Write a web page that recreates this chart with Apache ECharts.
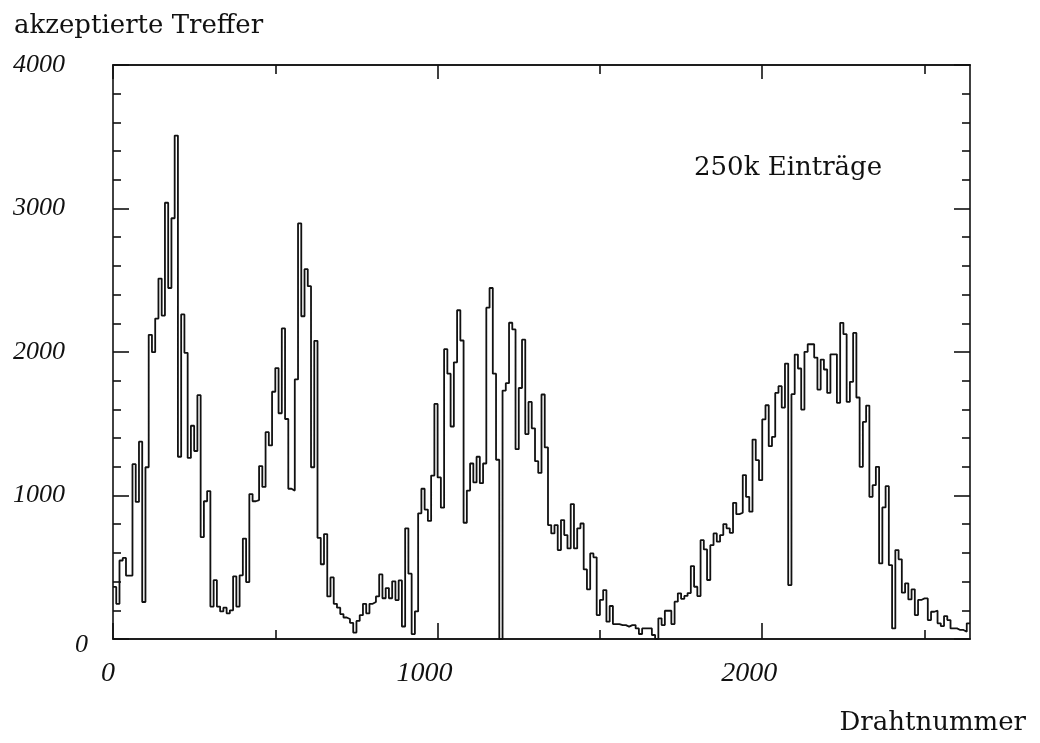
<!DOCTYPE html>
<html>
<head>
<meta charset="utf-8">
<script src="https://cdn.jsdelivr.net/npm/echarts@6/dist/echarts.min.js"></script>
<style>
html,body{margin:0;padding:0;background:#fff;}
#chart{width:1040px;height:743px;}
</style>
</head>
<body>
<div id="chart"></div>
<script>
// Histogram: accepted hits per wire-number bin (bin width 10 wires, 0..2640)
const binWidth = 10;
const counts = [
  363, 245, 547, 565, 442, 442, 1218, 955, 1375, 258,
  1197, 2120, 1999, 2233, 2512, 2254, 3040, 2446, 2932, 3508,
  1270, 2262, 1994, 1262, 1486, 1310, 1699, 710, 960, 1031,
  226, 410, 226, 192, 218, 179, 200, 437, 226, 444,
  700, 397, 1010, 960, 968, 1205, 1060, 1441, 1349, 1723,
  1888, 1573, 2164, 1533, 1047, 1034, 1809, 2896, 2249, 2577,
  2459, 1197, 2078, 705, 521, 731, 297, 429, 245, 218,
  174, 150, 139, 113, 45, 126, 166, 245, 179, 245,
  258, 297, 450, 284, 355, 284, 402, 271, 408, 87,
  771, 455, 34, 192, 876, 1047, 902, 823, 1139, 1638,
  1126, 915, 2020, 1849, 1481, 1928, 2291, 2080, 810, 1034,
  1223, 1091, 1270, 1086, 1223, 2309, 2446, 1849, 1249, 0,
  1731, 1783, 2204, 2157, 1323, 1749, 2086, 1428, 1652, 1468,
  1239, 1157, 1704, 1335, 794, 736, 794, 620, 829, 724,
  631, 940, 631, 771, 805, 485, 346, 596, 569, 167,
  272, 341, 121, 230, 104, 104, 97, 97, 86, 97,
  97, 74, 35, 74, 74, 74, 28, 0, 144, 97,
  197, 197, 104, 260, 318, 280, 300, 320, 508, 364,
  299, 689, 624, 411, 654, 736, 678, 724, 801, 771,
  740, 949, 870, 880, 1142, 991, 887, 1390, 1246, 1107,
  1530, 1629, 1344, 1409, 1715, 1762, 1613, 1919, 376, 1706,
  1982, 1885, 1599, 2001, 2054, 2054, 1961, 1738, 1947, 1878,
  1715, 1984, 1984, 1646, 2203, 2124, 1653, 1792, 2133, 1683,
  1200, 1513, 1627, 991, 1072, 1200, 527, 917, 1065, 515,
  74, 620, 555, 323, 388, 276, 346, 167, 272, 283,
  283, 132, 190, 197, 109, 90, 160, 132, 74, 74,
  63, 63, 51, 109
];
const xMin = 0;
const xMax = counts.length * binWidth; // 2640
const xMajorTicks = [0, 1000, 2000];
const xMinorTicks = [500, 1500, 2500];
const yMin = 0;
const yMax = 4000;
const yInterval = 1000;

const titleText = 'akzeptierte Treffer';
const xName = 'Drahtnummer';
const noteText = '250k Einträge';

const serif = 'Liberation Serif';
const textSerif = 'DejaVu Serif';

// step-line data built from the bin edges
const stepData = counts.map((v, i) => [i * binWidth, v]);
stepData.push([xMax, counts[counts.length - 1]]);

const lineBlack = {color: '#111', width: 1.6};

function xAxisDef(position, ticks, len, showLabels) {
  return {
    type: 'value', position: position, min: xMin, max: xMax,
    axisLine: {show: true, onZero: false, lineStyle: lineBlack},
    axisTick: {show: true, inside: true, length: len, customValues: ticks, lineStyle: lineBlack},
    axisLabel: showLabels ? {
      show: true, customValues: xMajorTicks, margin: 21,
      fontFamily: serif, fontStyle: 'italic', fontSize: 28, color: '#111',
      padding: [0, 26, 0, 0],
      formatter: function (v) { return v === 0 ? '{z|0}' : String(v); },
      rich: {z: {fontFamily: serif, fontStyle: 'italic', fontSize: 28, color: '#111', padding: [0, 0, 0, 16]}}
    } : {show: false},
    splitLine: {show: false}
  };
}
function yAxisDef(position, showLabels) {
  return {
    type: 'value', position: position, min: yMin, max: yMax, interval: yInterval,
    axisLine: {show: true, onZero: false, lineStyle: lineBlack},
    axisTick: {show: true, inside: true, length: 16, lineStyle: lineBlack},
    minorTick: {show: true, splitNumber: 5, length: 8, lineStyle: lineBlack},
    axisLabel: showLabels ? {
      show: true, margin: 100, align: 'left',
      fontFamily: serif, fontStyle: 'italic', fontSize: 26, color: '#111',
      formatter: function (v) { return v === 0 ? '{z|0}' : String(v); },
      rich: {z: {fontFamily: serif, fontStyle: 'italic', fontSize: 26, color: '#111', padding: [12, 0, 0, 62]}}
    } : {show: false},
    splitLine: {show: false}
  };
}

const chart = echarts.init(document.getElementById('chart'), null, {renderer: 'canvas'});
chart.setOption({
  animation: false,
  backgroundColor: '#fff',
  title: [
    {text: titleText, left: 9, top: 8, textStyle: {fontFamily: textSerif, fontWeight: 'normal', fontSize: 26, color: '#111'}},
    {text: noteText, left: 689, top: 150, textStyle: {fontFamily: textSerif, fontWeight: 'normal', fontSize: 26, color: '#111'}},
    {text: xName, right: 9, top: 705, textStyle: {fontFamily: textSerif, fontWeight: 'normal', fontSize: 26, color: '#111'}}
  ],
  grid: {left: 113, right: 70, top: 65, bottom: 104, containLabel: false},
  xAxis: [
    xAxisDef('bottom', xMajorTicks, 16, true),
    xAxisDef('bottom', xMinorTicks, 9, false),
    xAxisDef('top', xMajorTicks, 14, false),
    xAxisDef('top', xMinorTicks, 9, false)
  ],
  yAxis: [
    yAxisDef('left', true),
    yAxisDef('right', false)
  ],
  series: [{
    type: 'line',
    xAxisIndex: 0, yAxisIndex: 0,
    step: 'end',
    data: stepData,
    showSymbol: false,
    lineStyle: {color: '#111', width: 1.8},
    clip: true
  }]
});
</script>
</body>
</html>
